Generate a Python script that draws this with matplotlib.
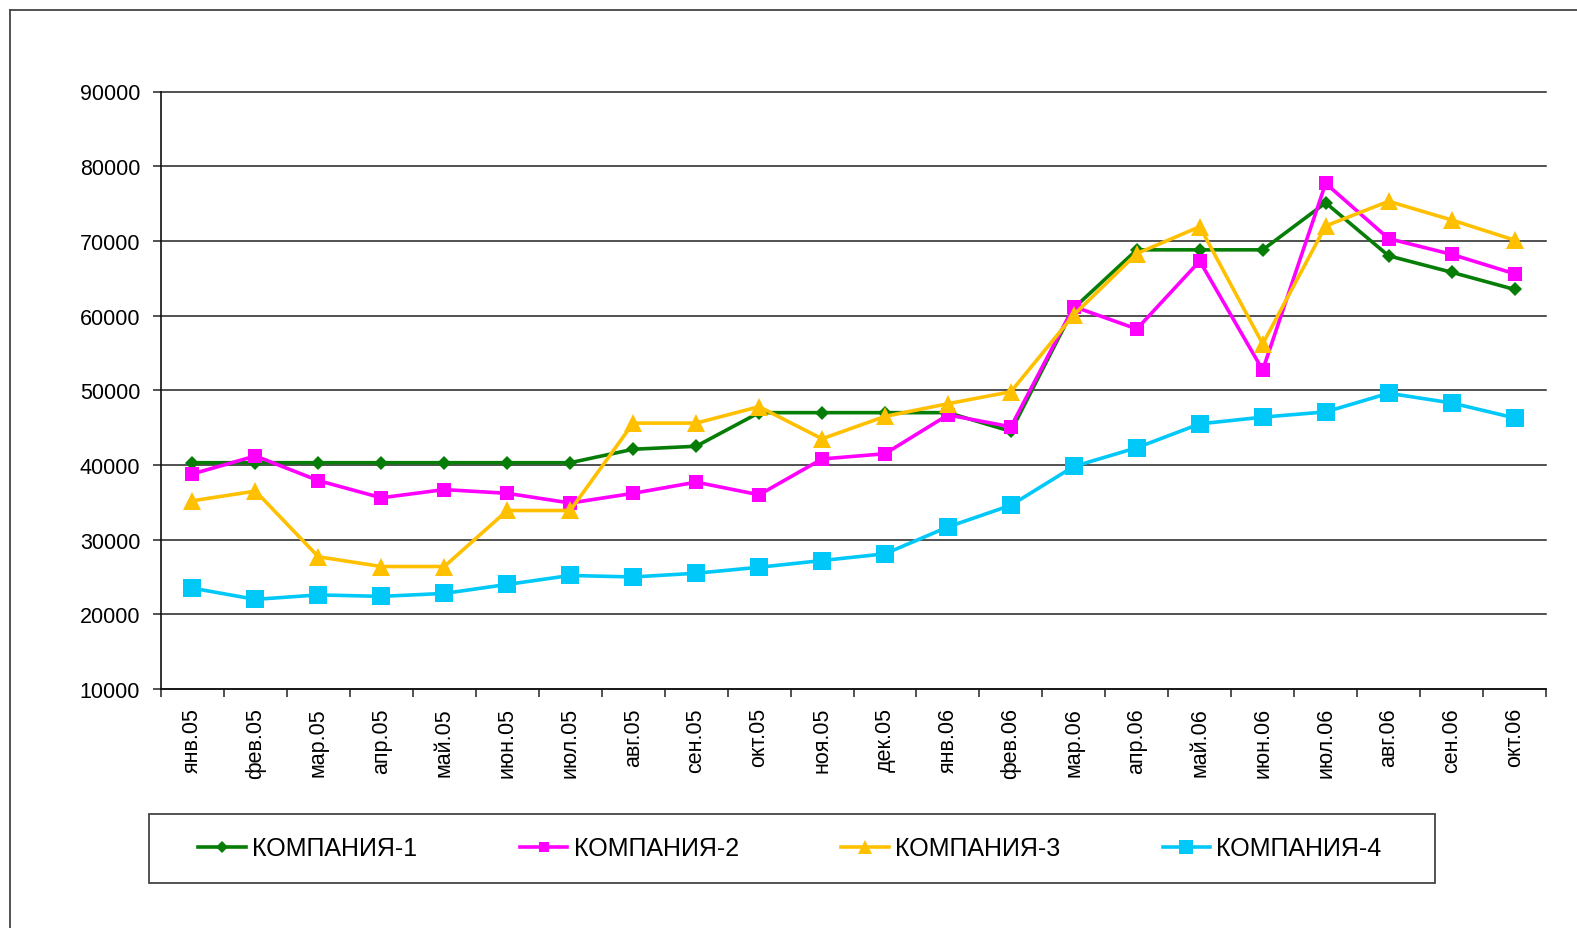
import matplotlib
matplotlib.use("Agg")
import matplotlib.pyplot as plt
from matplotlib.lines import Line2D
from matplotlib.patches import Rectangle

plt.rcParams['font.family'] = ['Liberation Sans', 'DejaVu Sans']

months = ["янв.05", "фев.05", "мар.05", "апр.05", "май.05", "июн.05", "июл.05",
          "авг.05", "сен.05", "окт.05", "ноя.05", "дек.05", "янв.06", "фев.06",
          "мар.06", "апр.06", "май.06", "июн.06", "июл.06", "авг.06", "сен.06", "окт.06"]

company1 = [40300, 40300, 40300, 40300, 40300, 40300, 40300, 42100, 42500, 47000, 47000,
            47000, 47000, 44500, 61000, 68800, 68800, 68800, 75100, 68000, 65800, 63500]
company2 = [38800, 41200, 37900, 35600, 36700, 36200, 34900, 36200, 37700, 36000, 40800,
            41500, 46700, 45100, 61200, 58200, 67300, 52700, 77700, 70300, 68200, 65600]
company3 = [35200, 36500, 27700, 26400, 26400, 33900, 33900, 45600, 45600, 47800, 43500,
            46500, 48200, 49800, 60100, 68300, 71900, 56200, 72000, 75300, 72800, 70100]
company4 = [23500, 22000, 22600, 22400, 22800, 24000, 25200, 25000, 25500, 26300, 27200,
            28100, 31700, 34600, 39800, 42300, 45500, 46400, 47100, 49600, 48300, 46300]

series_names = ["КОМПАНИЯ-1", "КОМПАНИЯ-2", "КОМПАНИЯ-3", "КОМПАНИЯ-4"]
y_ticks = [10000, 20000, 30000, 40000, 50000, 60000, 70000, 80000, 90000]

W, H = 1577, 929
fig = plt.figure(figsize=(W / 100, H / 100), dpi=100)
fig.patch.set_facecolor("white")

ax = fig.add_axes([161 / W, 1 - 690 / H, (1546 - 161) / W, (690 - 92.5) / H])

x = list(range(len(months)))
styles = [
    dict(color="#067d06", marker="D", markersize=7.5, lw=2.6),
    dict(color="#ff00ff", marker="s", markersize=10.5, lw=2.6),
    dict(color="#ffc000", marker="^", markersize=13, lw=2.6),
    dict(color="#00c8f8", marker="s", markersize=13, lw=2.6),
]
handles = []
for data, name, st in zip([company1, company2, company3, company4], series_names, styles):
    h, = ax.plot(x, data, color=st["color"], marker=st["marker"], markersize=st["markersize"],
                 lw=st["lw"], markeredgewidth=0, label=name, clip_on=False, zorder=3)
    handles.append(h)

ax.set_xlim(-0.5, len(months) - 0.5)
ax.set_ylim(10000, 90000)
ax.set_yticks(y_ticks)
ax.set_yticklabels([str(v) for v in y_ticks], fontsize=15.5)
ax.yaxis.grid(True, color="#222222", lw=1.1)
for gl in ax.get_ygridlines():
    gl.set_clip_on(False)
ax.set_axisbelow(True)

ax.set_xticks([i - 0.5 for i in range(len(months) + 1)])
ax.set_xticklabels([])
ax.set_xticks(x, minor=True)
ax.set_xticklabels(months, minor=True, rotation=90, fontsize=15.5, va="top")
ax.tick_params(axis="x", which="major", length=6, width=1.1, direction="out", color="#222222")
ax.tick_params(axis="x", which="minor", length=0, pad=13)
ax.tick_params(axis="y", which="major", length=6, width=1.1, direction="out", pad=9,
               color="#222222")

for side in ["top", "right"]:
    ax.spines[side].set_visible(False)
for side in ["left", "bottom"]:
    ax.spines[side].set_color("#111111")
    ax.spines[side].set_linewidth(1.2)

# legend box
fig.patches.append(Rectangle((149 / W, 1 - 884 / H), (1435 - 149) / W, (884 - 815) / H,
                             transform=fig.transFigure, fill=False, edgecolor="#444444",
                             lw=1.3))
leg = fig.legend(handles=handles, loc="center", bbox_to_anchor=(790 / W, 1 - 849.5 / H),
                 ncol=4, frameon=False, fontsize=18, handlelength=1.9, handletextpad=0.25,
                 columnspacing=4.1, borderpad=0, markerscale=0.75)

# outer frame (left and top visible)
fig.add_artist(Line2D([9.5 / W, 9.5 / W], [0, 1 - 11 / H], transform=fig.transFigure,
                      color="#444444", lw=1.3))
fig.add_artist(Line2D([9.5 / W, 1], [1 - 11 / H, 1 - 11 / H], transform=fig.transFigure,
                      color="#444444", lw=1.3))

fig.savefig("out.png", dpi=100, facecolor="white")
